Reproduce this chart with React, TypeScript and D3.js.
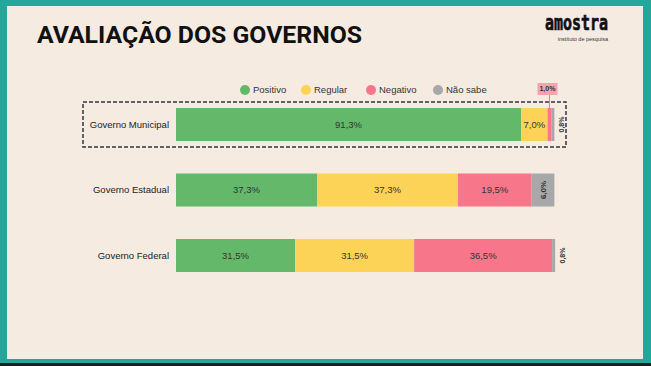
import React from 'react';
import * as d3 from 'd3';

// chart data
const categories = ['Governo Municipal', 'Governo Estadual', 'Governo Federal'];
const positivo = [91.3, 37.3, 31.5];
const regular = [7.0, 37.3, 31.5];
const negativo = [1.0, 19.5, 36.5];
const naoSabe = [0.8, 6.0, 0.8];
const seriesNames = ['Positivo', 'Regular', 'Negativo', 'Não sabe'];
const seriesColors = ['#63b969', '#fdd357', '#f7768a', '#a8a8a8'];

const W = 651;
const H = 366;
const font = "'Liberation Sans', Arial, sans-serif";

const fmt = (v: number) => v.toFixed(1).replace('.', ',') + '%';

export default function App() {
  const rows = categories.map((c, i) => ({
    cat: c,
    Positivo: positivo[i],
    Regular: regular[i],
    Negativo: negativo[i],
    'Não sabe': naoSabe[i],
  }));
  const stacked = d3.stack<any>().keys(seriesNames)(rows);

  const x = d3.scaleLinear().domain([0, 100]).range([176, 554]);
  const y = d3.scaleBand().domain(categories).range([108, 272]).paddingInner(0.496).paddingOuter(0);
  const color = d3.scaleOrdinal<string, string>().domain(seriesNames).range(seriesColors);
  const bw = y.bandwidth();

  // legend positions
  const legendX = [245, 306, 371, 438];

  const labels: React.ReactNode[] = [];
  stacked.forEach((s, si) => {
    s.forEach((d, i) => {
      const v = d[1] - d[0];
      const x0 = x(d[0]);
      const x1 = x(d[1]);
      const yc = (y(categories[i]) as number) + bw / 2;
      const key = `${si}-${i}`;
      if (v >= 7) {
        labels.push(
          <text key={key} x={(x0 + x1) / 2} y={yc} dy="0.35em" textAnchor="middle"
            fontSize={9.5} fill="#333" fontFamily={font}>{fmt(v)}</text>
        );
      } else if (seriesNames[si] === 'Não sabe') {
        const lx = v >= 3 ? (x0 + x1) / 2 : x1 + 7;
        labels.push(
          <text key={key} transform={`translate(${lx},${yc}) rotate(-90)`} dy="0.35em" textAnchor="middle"
            fontSize={v >= 3 ? 8 : 7} fontWeight="bold" fill="#333" fontFamily={font}>{fmt(v)}</text>
        );
      } else {
        // callout above the bar
        const cx = (x0 + x1) / 2;
        const top = y(categories[i]) as number;
        labels.push(
          <g key={key}>
            <line x1={cx} x2={cx} y1={top - 13} y2={top} stroke="#f7768a" strokeWidth={1} />
            <rect x={cx - 12} y={top - 25} width={20} height={12} fill="#f5a3ae" />
            <text x={cx - 2} y={top - 19} dy="0.35em" textAnchor="middle" fontSize={7}
              fontWeight="bold" fill="#333" fontFamily={font}>{fmt(v)}</text>
          </g>
        );
      }
    });
  });

  return (
    <svg width={W} height={H} style={{ position: 'absolute', left: 0, top: 0 }}>
      <rect x={0} y={0} width={W} height={H} fill="#1f1f1f" />
      <rect x={0} y={0} width={W} height={363} fill="#22a79a" />
      <rect x={7} y={6} width={636} height={353} fill="#f5ebe1" />

      <text x={37} y={43} fontSize={24.5} fontWeight="bold" fill="#111" fontFamily="Roboto, sans-serif"
        textLength={325} lengthAdjust="spacingAndGlyphs">AVALIAÇÃO DOS GOVERNOS</text>

      <text x={608} y={30} textAnchor="end" fontSize={22} fontWeight="bold" fill="#111" stroke="#111"
        strokeWidth={0.7} fontFamily="'DejaVu Sans Mono', monospace" textLength={63}
        lengthAdjust="spacingAndGlyphs">amostra</text>
      <text x={608} y={40.5} textAnchor="end" fontSize={5.5} fill="#333" fontFamily={font}>instituto de pesquisa</text>

      {seriesNames.map((n, i) => (
        <g key={n}>
          <circle cx={legendX[i]} cy={90} r={5} fill={color(n)} />
          <text x={legendX[i] + 8} y={90} dy="0.35em" fontSize={9.5} fill="#333" fontFamily={font}>{n}</text>
        </g>
      ))}

      <rect x={83} y={102} width={483} height={45} fill="none" stroke="#2e3642" strokeWidth={1.5}
        strokeDasharray="4,2" />

      {categories.map((c) => (
        <text key={c} x={169} y={(y(c) as number) + bw / 2} dy="0.35em" textAnchor="end"
          fontSize={9.5} fill="#222" fontFamily={font}>{c}</text>
      ))}

      {stacked.map((s, si) => (
        <g key={s.key} fill={color(s.key)}>
          {s.map((d, i) => (
            <rect key={i} x={x(d[0])} y={y(categories[i])} width={x(d[1]) - x(d[0])} height={bw} />
          ))}
        </g>
      ))}

      {labels}
    </svg>
  );
}
